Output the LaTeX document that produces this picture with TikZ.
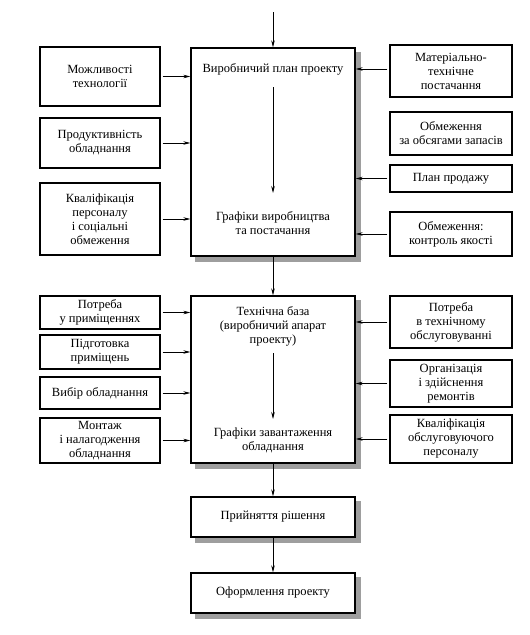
\documentclass[tikz,border=0pt]{standalone}
\usepackage{fontspec}
\setmainfont{Liberation Serif}
\usetikzlibrary{arrows.meta,backgrounds}
\begin{document}
\begin{tikzpicture}[x=1pt,y=-1pt,
  every node/.style={font=\rmfamily\fontsize{12.5}{14}\selectfont, align=center, inner sep=0pt},
  sbox/.style={draw, line width=1.3pt, fill=white, minimum width=120pt},
  rbox/.style={sbox, minimum width=122pt},
  mbox/.style={draw, line width=1.3pt, fill=white, minimum width=164pt},
  shad/.style={fill=black!38},
  arr/.style={line width=0.7pt, -{Stealth[length=7pt,width=3.5pt]}},
  lbl/.style={}
]
\useasboundingbox (0,0) rectangle (530,635);
% main boxes
\node[mbox, minimum height=208pt] (M1) at (273,152) {};
\node[mbox, minimum height=167pt] (M2) at (273,379.5) {};
\node[mbox, minimum height=40pt] (B1) at (273,517) {Прийняття рішення};
\node[mbox, minimum height=40pt] (B2) at (273,593) {Оформлення проекту};
\begin{scope}[on background layer]
  \foreach \b in {M1,M2,B1,B2}
    \fill[shad] ([shift={(5pt,-5pt)}]\b.south west) rectangle ([shift={(5pt,-5pt)}]\b.north east);
\end{scope}
% texts inside main boxes
\node[lbl] (t1) at (273,69) {Виробничий план проекту};
\node[lbl] (t2) at (273,223) {Графіки виробництва\\та постачання};
\node[lbl] (t3) at (273,326) {Технічна база\\(виробничий апарат\\проекту)};
\node[lbl] (t4) at (273,440.5) {Графіки завантаження\\обладнання};
\coordinate (a1s) at (273,87);
\coordinate (a1e) at (273,193);
\coordinate (a2s) at (273,353);
\coordinate (a2e) at (273,419);
\draw[arr] (a1s) -- (a1e);
\draw[arr] (a2s) -- (a2e);
% left boxes
\node[sbox, minimum height=59pt] (L1) at (100,76.5) {Можливості\\технології};
\node[sbox, minimum height=50pt] (L2) at (100,143) {Продуктивність\\обладнання};
\node[sbox, minimum height=72pt] (L3) at (100,219) {Кваліфікація\\персоналу\\і соціальні\\обмеження};
\node[sbox, minimum height=33pt] (L4) at (100,312.5) {Потреба\\у приміщеннях};
\node[sbox, minimum height=34pt] (L5) at (100,352) {Підготовка\\приміщень};
\node[sbox, minimum height=32pt] (L6) at (100,393) {Вибір обладнання};
\node[sbox, minimum height=45pt] (L7) at (100,440.5) {Монтаж\\і налагодження\\обладнання};
% right boxes
\node[rbox, minimum height=52pt] (R1) at (451,71) {Матеріально-\\технічне\\постачання};
\node[rbox, minimum height=43pt] (R2) at (451,133.5) {Обмеження\\за обсягами запасів};
\node[rbox, minimum height=27pt] (R3) at (451,178.5) {План продажу};
\node[rbox, minimum height=44pt] (R4) at (451,234) {Обмеження:\\контроль якості};
\node[rbox, minimum height=52pt] (R5) at (451,322) {Потреба\\в технічному\\обслуговуванні};
\node[rbox, minimum height=47pt] (R6) at (451,383.5) {Організація\\і здійснення\\ремонтів};
\node[rbox, minimum height=48pt] (R7) at (451,439) {Кваліфікація\\обслуговуючого\\персоналу};
% vertical connectors
\coordinate (top) at (273,12);
\draw[arr] (top) -- (M1.north);
\draw[arr] (M1.south) -- (M2.north);
\draw[arr] (M2.south) -- (B1.north);
\draw[arr] (B1.south) -- (B2.north);
% left connectors
\foreach \n/\m in {L1/M1,L2/M1,L3/M1,L4/M2,L5/M2,L6/M2,L7/M2}
  \draw[arr, shorten <=2pt] (\n.east) -- (\n.east -| \m.west);
% right connectors
\draw[arr, shorten <=2pt] ([yshift=2pt]R1.west) -- ([yshift=2pt]R1.west -| M1.east);
\foreach \n/\m in {R3/M1,R4/M1,R5/M2,R6/M2,R7/M2}
  \draw[arr, shorten <=2pt] (\n.west) -- (\n.west -| \m.east);
\end{tikzpicture}
\end{document}
